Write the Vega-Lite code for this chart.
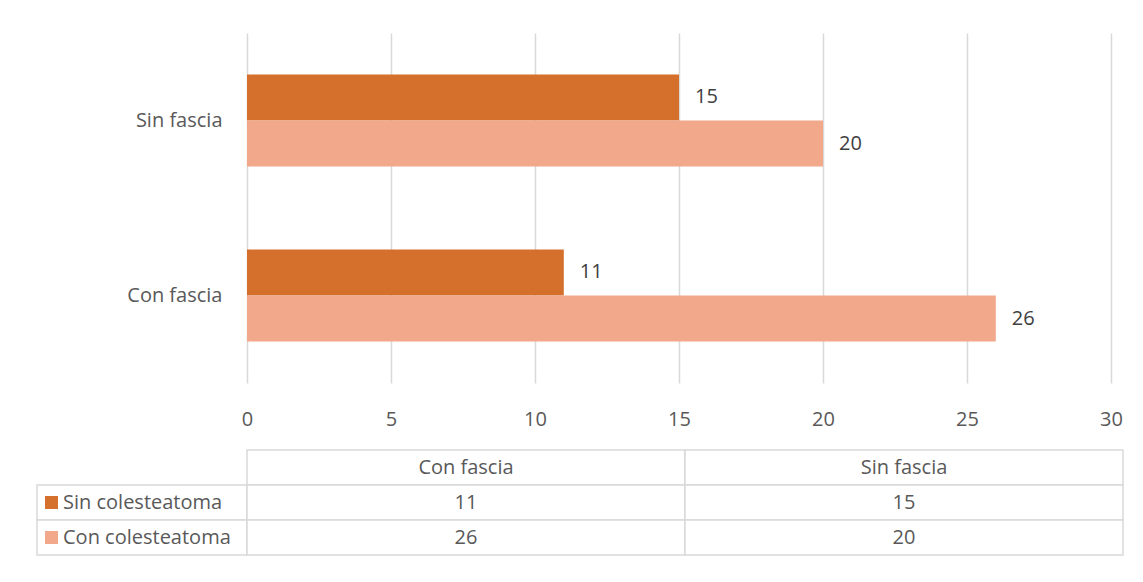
{
  "$schema": "https://vega.github.io/schema/vega-lite/v6.json",
  "padding": {"left": 36, "top": 33, "right": 21, "bottom": 26},
  "autosize": {"type": "pad"},
  "background": "white",
  "config": {"view": {"stroke": null}, "font": "Open Sans"},
  "datasets": {
    "bars": [
      {"fascia": "Con fascia", "grupo": "Sin colesteatoma", "valor": 11},
      {"fascia": "Con fascia", "grupo": "Con colesteatoma", "valor": 26},
      {"fascia": "Sin fascia", "grupo": "Sin colesteatoma", "valor": 15},
      {"fascia": "Sin fascia", "grupo": "Con colesteatoma", "valor": 20}
    ],
    "header": [
      {"fascia": "Con fascia", "fila": "hdr"},
      {"fascia": "Sin fascia", "fila": "hdr"}
    ],
    "legend": [
      {"grupo": "Sin colesteatoma"},
      {"grupo": "Con colesteatoma"}
    ]
  },
  "columns": 2,
  "bounds": "flush",
  "spacing": {"row": 67, "column": 0},
  "concat": [
    {
      "width": 210,
      "height": 350,
      "data": {"values": []},
      "mark": {"type": "text"},
      "encoding": {}
    },
    {
      "width": 864,
      "height": 350,
      "data": {"name": "bars"},
      "encoding": {
        "y": {
          "field": "fascia", "type": "nominal",
          "sort": ["Sin fascia", "Con fascia"],
          "scale": {"paddingInner": 0.474, "paddingOuter": 0.237},
          "axis": {"title": null, "ticks": false, "domain": false, "labelPadding": 25, "labelFontSize": 20, "labelColor": "#595959", "labelFont": "Open Sans"}
        },
        "yOffset": {
          "field": "grupo", "type": "nominal",
          "sort": ["Sin colesteatoma", "Con colesteatoma"],
          "scale": {"paddingInner": 0, "paddingOuter": 0}
        },
        "x": {
          "field": "valor", "type": "quantitative",
          "scale": {"domain": [0, 30], "nice": false},
          "axis": {"title": null, "values": [0, 5, 10, 15, 20, 25, 30], "grid": true, "gridColor": "#d9d9d9", "gridWidth": 1.5, "domain": false, "ticks": false, "labelPadding": 26, "labelFontSize": 20, "labelColor": "#595959", "labelFlush": false, "labelFont": "Open Sans"}
        }
      },
      "layer": [
        {
          "mark": {"type": "bar"},
          "encoding": {
            "color": {"field": "grupo", "type": "nominal", "scale": {"domain": ["Sin colesteatoma", "Con colesteatoma"], "range": ["#D46F2C", "#F2A88A"]}, "legend": null}
          }
        },
        {
          "mark": {"type": "text", "align": "left", "baseline": "middle", "dx": 16, "fontSize": 20, "color": "#404040"},
          "encoding": {"text": {"field": "valor", "type": "quantitative"}}
        }
      ]
    },
    {
      "width": 210,
      "height": 105,
      "data": {"name": "legend"},
      "encoding": {
        "y": {"field": "grupo", "type": "nominal", "scale": {"domain": ["hdr", "Sin colesteatoma", "Con colesteatoma"], "paddingInner": 0, "paddingOuter": 0}, "axis": null}
      },
      "layer": [
        {"mark": {"type": "rect", "fill": "white", "stroke": "#d9d9d9", "strokeWidth": 1.5}},
        {
          "mark": {"type": "point", "shape": "square", "filled": true, "size": 169, "opacity": 1, "xOffset": -90.5},
          "encoding": {
            "color": {"field": "grupo", "type": "nominal", "scale": {"domain": ["Sin colesteatoma", "Con colesteatoma"], "range": ["#D46F2C", "#F2A88A"]}, "legend": null}
          }
        },
        {
          "mark": {"type": "text", "align": "left", "baseline": "middle", "dx": -79, "fontSize": 20, "color": "#595959"},
          "encoding": {"text": {"field": "grupo", "type": "nominal"}}
        }
      ]
    },
    {
      "width": 876,
      "height": 105,
      "layer": [
        {
          "data": {"name": "header"},
          "mark": {"type": "rect", "fill": "white", "stroke": "#d9d9d9", "strokeWidth": 1.5},
          "encoding": {
            "x": {"field": "fascia", "type": "nominal", "scale": {"domain": ["Con fascia", "Sin fascia"], "paddingInner": 0, "paddingOuter": 0}, "axis": null},
            "y": {"field": "fila", "type": "nominal", "scale": {"domain": ["hdr", "Sin colesteatoma", "Con colesteatoma"], "paddingInner": 0, "paddingOuter": 0}, "axis": null}
          }
        },
        {
          "data": {"name": "header"},
          "mark": {"type": "text", "baseline": "middle", "fontSize": 20, "color": "#595959"},
          "encoding": {
            "x": {"field": "fascia", "type": "nominal", "axis": null},
            "y": {"field": "fila", "type": "nominal", "axis": null},
            "text": {"field": "fascia", "type": "nominal"}
          }
        },
        {
          "data": {"name": "bars"},
          "mark": {"type": "rect", "fill": "white", "stroke": "#d9d9d9", "strokeWidth": 1.5},
          "encoding": {
            "x": {"field": "fascia", "type": "nominal", "axis": null},
            "y": {"field": "grupo", "type": "nominal", "axis": null}
          }
        },
        {
          "data": {"name": "bars"},
          "mark": {"type": "text", "baseline": "middle", "fontSize": 20, "color": "#595959"},
          "encoding": {
            "x": {"field": "fascia", "type": "nominal", "axis": null},
            "y": {"field": "grupo", "type": "nominal", "axis": null},
            "text": {"field": "valor", "type": "quantitative"}
          }
        }
      ]
    }
  ]
}
